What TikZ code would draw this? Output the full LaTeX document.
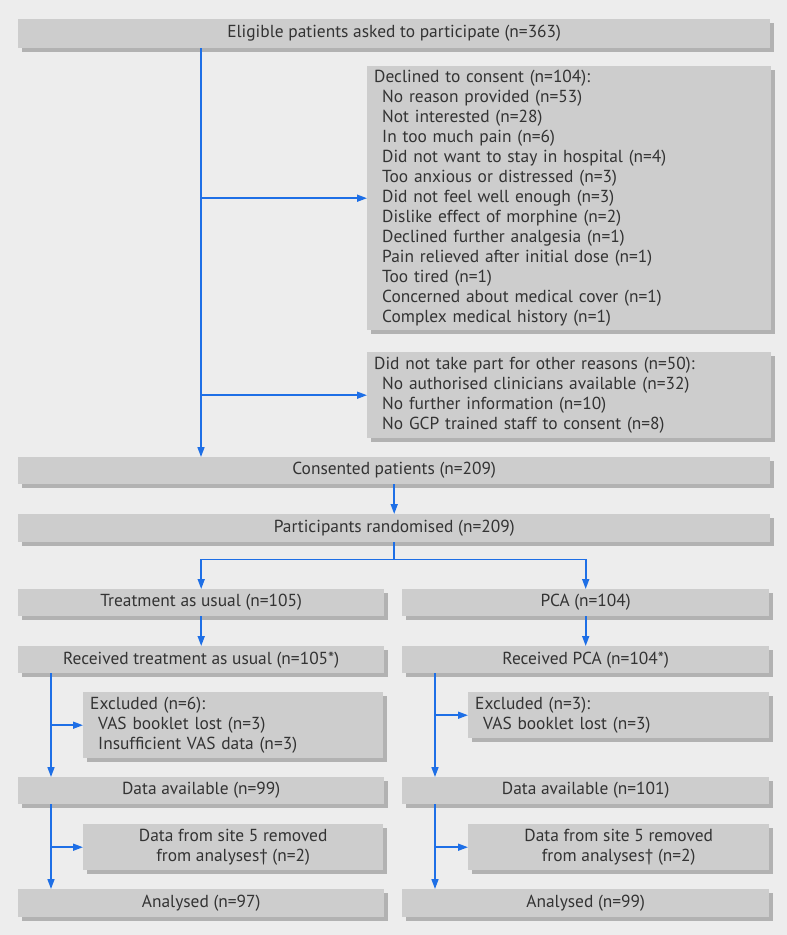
\documentclass[tikz,border=0pt]{standalone}
\usepackage{fontspec}
\setmainfont{PT Sans}
\usetikzlibrary{arrows.meta,shadows,calc}
\definecolor{bg}{HTML}{EDEDED}
\definecolor{boxfill}{HTML}{CDCDCD}
\definecolor{shadowc}{HTML}{B2B2B2}
\definecolor{txt}{HTML}{333333}
\definecolor{arrowblue}{HTML}{1E6FE6}
\tikzset{
  flowbox/.style={anchor=north west, fill=boxfill, draw=none, inner sep=0pt,
    text=txt, font=\fontsize{17.4}{20}\selectfont,
    drop shadow={shadow xshift=3.5pt, shadow yshift=-3.5pt, fill=shadowc, opacity=1}},
  listbox/.style={flowbox, align=left, inner xsep=7pt},
  centerbox/.style={flowbox, align=center},
  arr/.style={draw=arrowblue, line width=1.6pt, -{Triangle[length=10pt,width=7pt]}},
  plainline/.style={draw=arrowblue, line width=1.6pt}
}
\newcommand{\ind}{\hspace*{8pt}}
\begin{document}
\begin{tikzpicture}[x=1pt,y=-1pt]
\fill[bg] (0,0) rectangle (787,935);
\useasboundingbox (0,0) rectangle (787,935);

\node[centerbox, minimum width=752pt, minimum height=29pt] (top) at (18,19) {Eligible patients asked to participate (n=363)};

\node[listbox, text width=390pt, minimum height=264pt] (decl) at (367,66) {Declined to consent (n=104):\\
\ind No reason provided (n=53)\\
\ind Not interested (n=28)\\
\ind In too much pain (n=6)\\
\ind Did not want to stay in hospital (n=4)\\
\ind Too anxious or distressed (n=3)\\
\ind Did not feel well enough (n=3)\\
\ind Dislike effect of morphine (n=2)\\
\ind Declined further analgesia (n=1)\\
\ind Pain relieved after initial dose (n=1)\\
\ind Too tired (n=1)\\
\ind Concerned about medical cover (n=1)\\
\ind Complex medical history (n=1)};

\node[listbox, text width=390pt, minimum height=86pt] (other) at (367,352) {Did not take part for other reasons (n=50):\\
\ind No authorised clinicians available (n=32)\\
\ind No further information (n=10)\\
\ind No GCP trained staff to consent (n=8)};

\node[centerbox, minimum width=752pt, minimum height=27pt] (cons) at (18,457) {Consented patients (n=209)};
\node[centerbox, minimum width=752pt, minimum height=28pt] (rand) at (18,514) {Participants randomised (n=209)};

\node[centerbox, minimum width=366pt, minimum height=27pt] (tau) at (18,589) {Treatment as usual (n=105)};
\node[centerbox, minimum width=367pt, minimum height=27pt] (pca) at (402,589) {PCA (n=104)};
\node[centerbox, minimum width=366pt, minimum height=27pt] (rtau) at (18,646) {Received treatment as usual (n=105*)};
\node[centerbox, minimum width=367pt, minimum height=27pt] (rpca) at (402,646) {Received PCA (n=104*)};

\node[listbox, text width=286pt, minimum height=66pt] (excL) at (83,692) {Excluded (n=6):\\
\ind VAS booklet lost (n=3)\\
\ind Insufficient VAS data (n=3)};
\node[listbox, text width=287pt, minimum height=46pt] (excR) at (468,692) {Excluded (n=3):\\
\ind VAS booklet lost (n=3)};

\node[centerbox, minimum width=366pt, minimum height=27pt] (davL) at (18,777) {Data available (n=99)};
\node[centerbox, minimum width=367pt, minimum height=27pt] (davR) at (402,777) {Data available (n=101)};

\node[centerbox, minimum width=300pt, minimum height=46pt] (siteL) at (83,824) {Data from site 5 removed\\from analyses† (n=2)};
\node[centerbox, minimum width=301pt, minimum height=46pt] (siteR) at (468,824) {Data from site 5 removed\\from analyses† (n=2)};

\node[centerbox, minimum width=366pt, minimum height=28pt] (anL) at (18,889) {Analysed (n=97)};
\node[centerbox, minimum width=367pt, minimum height=28pt] (anR) at (402,889) {Analysed (n=99)};

% column coordinates
\coordinate (cMain) at (201,0);
\coordinate (cL) at (51,0);
\coordinate (cR) at (435,0);

% top section
\draw[arr] (top.south -| cMain) -- (cons.north -| cMain);
\draw[arr] (cMain |- decl.west) -- (decl.west);
\draw[arr] (cMain |- other.west) -- (other.west);
\draw[arr] (cons.south) -- (rand.north);

% randomisation split
\coordinate (split) at ($(rand.south)+(0,17)$);
\draw[plainline] (rand.south) -- (split);
\draw[arr] (split) -| (tau.north);
\draw[arr] (split) -| (pca.north);

\draw[arr] (tau.south) -- (rtau.north);
\draw[arr] (pca.south) -- (rpca.north);

% left column
\draw[arr] (rtau.south -| cL) -- (davL.north -| cL);
\draw[arr] (cL |- excL.west) -- (excL.west);
\draw[arr] (davL.south -| cL) -- (anL.north -| cL);
\draw[arr] (cL |- siteL.west) -- (siteL.west);

% right column
\draw[arr] (rpca.south -| cR) -- (davR.north -| cR);
\draw[arr] (cR |- excR.west) -- (excR.west);
\draw[arr] (davR.south -| cR) -- (anR.north -| cR);
\draw[arr] (cR |- siteR.west) -- (siteR.west);
\end{tikzpicture}
\end{document}
